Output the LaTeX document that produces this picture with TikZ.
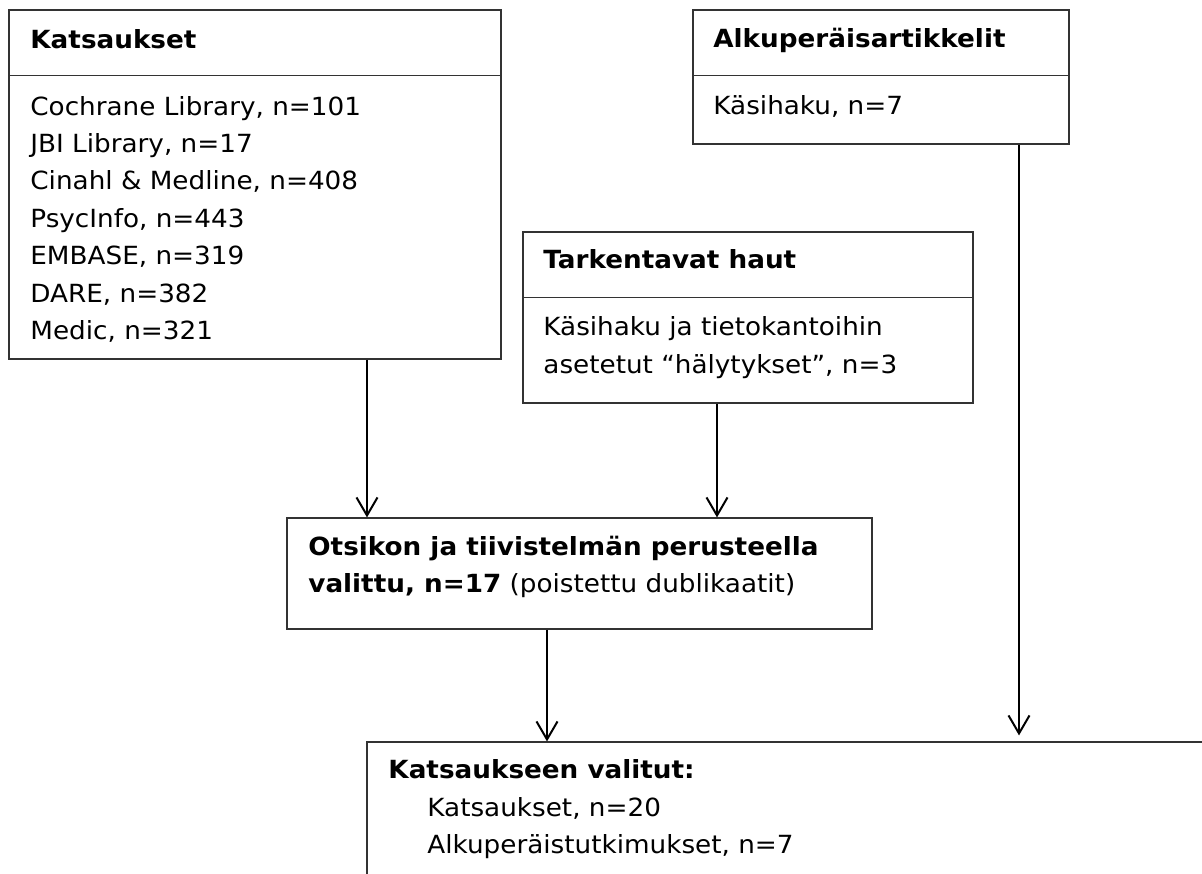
\documentclass[tikz,border=0pt]{standalone}
\usepackage{fontspec}
\setmainfont[FakeStretch=1.05]{DejaVu Sans}
\usetikzlibrary{arrows.meta}

\tikzset{
  box/.style={draw=black!80, line width=0.6pt, inner sep=0pt},
  boxline/.style={draw=black!80, line width=0.6pt},
  txt/.style={inner sep=0pt, anchor=base west, font=\fontsize{12.5}{15}\selectfont},
  hdr/.style={txt, font=\fontsize{12.5}{15}\selectfont\bfseries},
  arr/.style={-{Straight Barb[length=9pt,width=10.5pt]}, line width=1pt},
}

\begin{document}
\begin{tikzpicture}[x=0.5pt,y=-0.5pt]
	\useasboundingbox (0,0) rectangle (1202,873);
	\clip (0,0) rectangle (1202,873);
	% boxes
	\node[box, minimum width=246pt, minimum height=174.5pt] (kat) at (255,184.5) {};
	\node[box, minimum width=188pt, minimum height=67pt] (alku) at (881,77) {};
	\node[box, minimum width=225pt, minimum height=85.5pt] (tark) at (748,317.5) {};
	\node[box, minimum width=292.5pt, minimum height=55.5pt] (otsi) at (579.5,573.5) {};
	\node[box, minimum width=431.5pt, minimum height=79pt] (valit) at (798.5,821) {};
	\foreach \b in {kat,alku,tark}
		\draw[boxline] (\b.north west) ++(0,66) coordinate (d) -- (d -| \b.east);
	% texts
	\node[hdr] (katT) at (30,48) {Katsaukset};
	\foreach \t [count=\i from 0] in {{Cochrane Library, n=101},{JBI Library, n=17},{Cinahl \& Medline, n=408},{PsycInfo, n=443},{EMBASE, n=319},{DARE, n=382},{Medic, n=321}}
		\node[txt] (kat\i) at (30,115+37.4*\i) {\t};
	\node[hdr] (alkuT) at (713,47) {Alkuperäisartikkelit};
	\node[txt] (alku0) at (713,114) {Käsihaku, n=7};
	\node[hdr] (tarkT) at (543,268) {Tarkentavat haut};
	\node[txt] (tark0) at (543,335) {Käsihaku ja tietokantoihin};
	\node[txt] (tark1) at (543,373) {asetetut “hälytykset”, n=3};
	\node[hdr] (otsiT) at (308,555) {Otsikon ja tiivistelmän perusteella};
	\node[txt] (otsi0) at (308,592) {\textbf{valittu, n=17} (poistettu dublikaatit)};
	\node[hdr] (valitT) at (388,778) {Katsaukseen valitut:};
	\node[txt] (valit0) at (427,816) {Katsaukset, n=20};
	\node[txt] (valit1) at (427,853) {Alkuperäistutkimukset, n=7};
	% arrows
	\draw[arr] (kat.south) ++(112,0) coordinate (k1) -- (k1 |- otsi.north);
	\draw[arr] (tark.south) ++(-31,0) coordinate (t1) -- (t1 |- otsi.north);
	\draw[arr] (otsi.south) ++(-32.5,0) coordinate (o1) -- (o1 |- valit.north);
	\draw[arr, shorten >=3pt] (alku.south) ++(138,0) coordinate (a1) -- (a1 |- valit.north);
\end{tikzpicture}
\end{document}
